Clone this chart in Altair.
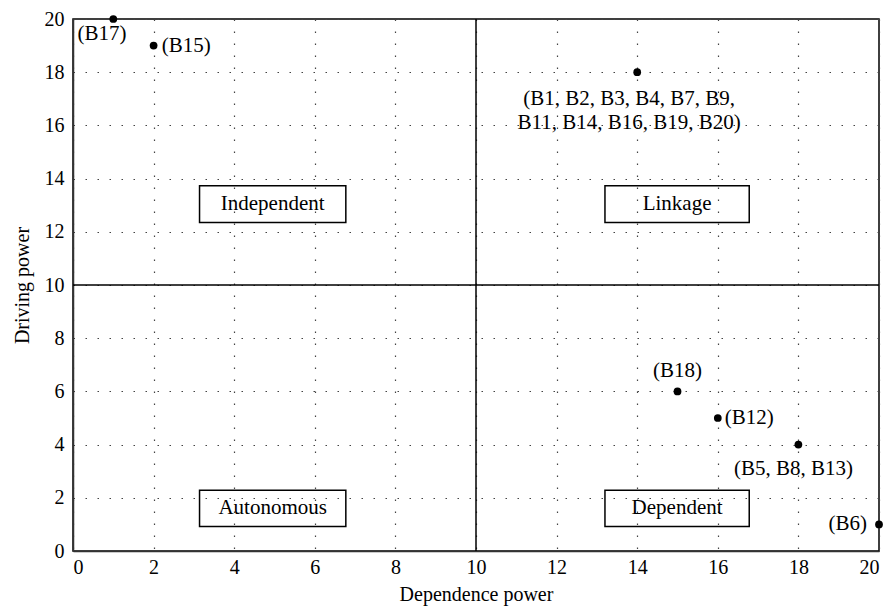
import altair as alt
import pandas as pd

# Points (dependence power, driving power)
pt_x = [1, 2, 14, 15, 16, 18, 20]
pt_y = [20, 19, 18, 6, 5, 4, 1]

# Point labels and their anchor positions (data units)
lab_text = ["(B17)", "(B15)", "(B1, B2, B3, B4, B7, B9,", "B11, B14, B16, B19, B20)",
            "(B18)", "(B12)", "(B5, B8, B13)", "(B6)"]
lab_x = [0.72, 2.2, 13.8, 13.8, 15.0, 16.17, 17.88, 19.7]
lab_y = [19.42, 19.0, 16.98, 16.1, 6.75, 5.0, 3.08, 1.0]
lab_align = ["center", "left", "center", "center", "center", "left", "center", "right"]

# Quadrant boxes
box_text = ["Independent", "Linkage", "Autonomous", "Dependent"]
box_x1 = [3.14, 13.2, 3.14, 13.2]
box_x2 = [6.77, 16.78, 6.77, 16.78]
box_y1 = [12.35, 12.35, 0.92, 0.92]
box_y2 = [13.73, 13.73, 2.28, 2.28]

ticks = list(range(0, 21, 2))
FONT = "Liberation Serif"

pts = pd.DataFrame({"x": pt_x, "y": pt_y})
labs = pd.DataFrame({"x": lab_x, "y": lab_y, "t": lab_text, "a": lab_align})
boxes = pd.DataFrame({"x1": box_x1, "x2": box_x2, "y1": box_y1, "y2": box_y2, "t": box_text,
                      "xc": [(a + b) / 2 for a, b in zip(box_x1, box_x2)],
                      "yc": [(a + b) / 2 for a, b in zip(box_y1, box_y2)]})

xs = alt.Scale(domain=[0, 20], nice=False)
ys = alt.Scale(domain=[0, 20], nice=False)

xax = alt.Axis(values=ticks, title="Dependence power", grid=True, ticks=False,
               labelPadding=6, titlePadding=7, format="d")
yax = alt.Axis(values=ticks, title="Driving power", grid=True, ticks=False,
               labelPadding=9, titlePadding=12, format="d")

base_pts = alt.Chart(pts).mark_circle(size=60, color="black", opacity=1).encode(
    x=alt.X("x:Q", scale=xs, axis=xax),
    y=alt.Y("y:Q", scale=ys, axis=yax),
)

vline = alt.Chart(pd.DataFrame({"v": [10]})).mark_rule(color="black", strokeWidth=1.5).encode(
    x=alt.X("v:Q", scale=xs))
hline = alt.Chart(pd.DataFrame({"v": [10]})).mark_rule(color="black", strokeWidth=1.5).encode(
    y=alt.Y("v:Q", scale=ys))

rects = alt.Chart(boxes).mark_rect(fillOpacity=0, fill="white", stroke="black", strokeWidth=1.5).encode(
    x=alt.X("x1:Q", scale=xs), x2="x2:Q", y=alt.Y("y1:Q", scale=ys), y2="y2:Q")
rect_text = alt.Chart(boxes).mark_text(font=FONT, fontSize=21, color="black", baseline="middle").encode(
    x=alt.X("xc:Q", scale=xs), y=alt.Y("yc:Q", scale=ys), text="t:N")

label_layers = []
for al in ["left", "center", "right"]:
    label_layers.append(
        alt.Chart(labs[labs["a"] == al]).mark_text(font=FONT, fontSize=21, color="black",
                                                   align=al, baseline="middle").encode(
            x=alt.X("x:Q", scale=xs), y=alt.Y("y:Q", scale=ys), text="t:N")
    )

chart = alt.layer(vline, hline, rects, rect_text, base_pts, *label_layers).properties(
    width=806, height=532,
    autosize=alt.AutoSizeParams(type="none"),
    padding={"left": 65, "top": 11, "right": 4, "bottom": 55},
).configure_view(stroke="black", strokeWidth=1.5).configure_axis(
    labelFont=FONT, titleFont=FONT, labelFontSize=20, titleFontSize=20,
    labelColor="black", titleColor="black", titleFontWeight="normal",
    domainColor="#333333", domainWidth=1.5,
    gridColor="#444444", gridDash=[1.5, 10.5], gridWidth=1.2, gridOpacity=1,
)

chart.save("out.html", embed_options={"renderer": "svg", "actions": False})
